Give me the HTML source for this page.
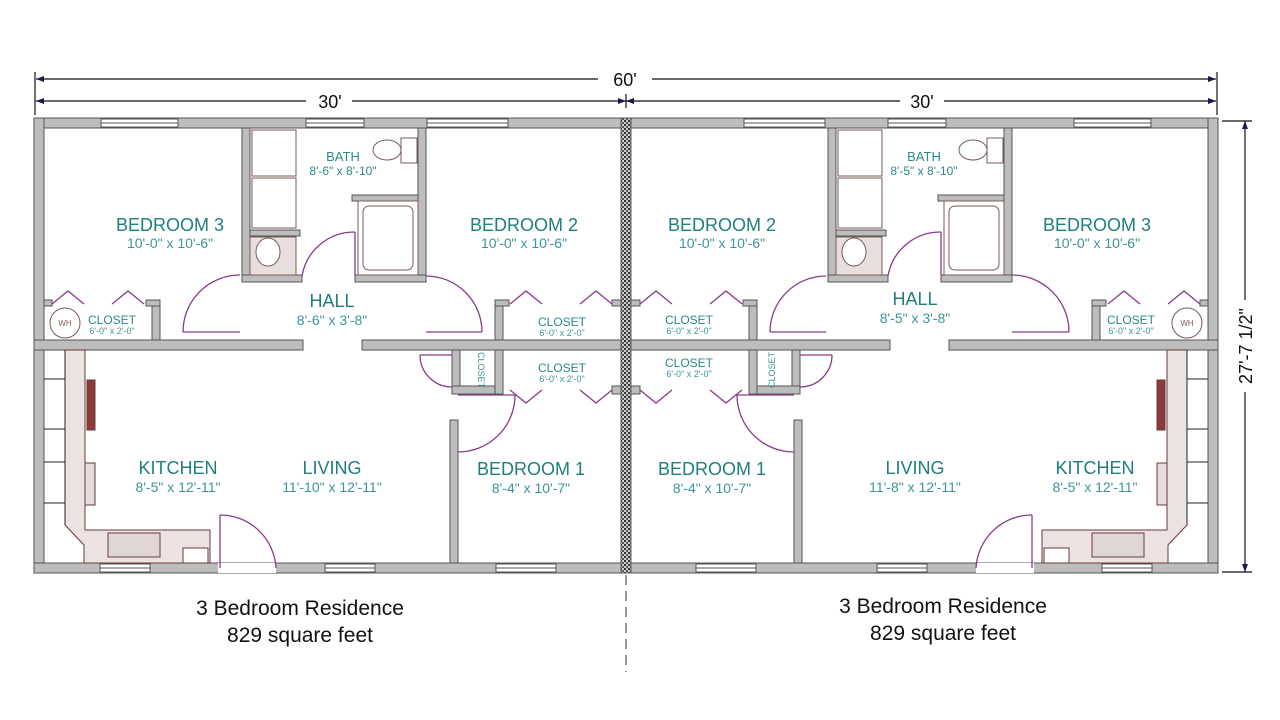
<!DOCTYPE html>
<html><head><meta charset="utf-8"><style>
html,body{margin:0;padding:0;background:#fff;}
svg{display:block;}
.n{font-family:"Liberation Sans",sans-serif;fill:#1f7f7c;text-anchor:middle;font-size:18px;}
.d{font-family:"Liberation Sans",sans-serif;fill:#3a9696;text-anchor:middle;font-size:14px;}
.s{font-family:"Liberation Sans",sans-serif;fill:#2a8a88;text-anchor:middle;font-size:12px;}
.t{font-family:"Liberation Sans",sans-serif;fill:#3a9696;text-anchor:middle;font-size:9px;}
.k{font-family:"Liberation Sans",sans-serif;fill:#111;text-anchor:middle;}
</style></head><body>
<svg width="1280" height="720" viewBox="0 0 1280 720" xmlns="http://www.w3.org/2000/svg">
<defs>
<pattern id="hp" width="4" height="4" patternUnits="userSpaceOnUse"><rect width="4" height="4" fill="#ccc"/><rect width="2" height="2" fill="#333"/><rect x="2" y="2" width="2" height="2" fill="#555"/></pattern>
<g id="unit">
 <g fill="#bdbdbd" stroke="#555" stroke-width="1">
  <rect x="34" y="118" width="588" height="10"/>
  <rect x="34" y="118" width="10" height="455"/>
  <rect x="34" y="563" width="588" height="10"/>
  <rect x="44" y="300" width="8" height="6"/>
  <rect x="152" y="300" width="8" height="40"/>
  <rect x="146" y="300" width="14" height="6"/>
  <rect x="495" y="300" width="8" height="40"/>
  <rect x="495" y="300" width="14" height="6"/>
  <rect x="612" y="300" width="10" height="6"/>
  <rect x="34" y="340" width="269" height="10"/>
  <rect x="362" y="340" width="260" height="10"/>
  <rect x="452" y="350" width="8" height="42"/>
  <rect x="452" y="386" width="51" height="8"/>
  <rect x="495" y="350" width="8" height="44"/>
  <rect x="612" y="386" width="10" height="8"/>
  <rect x="450" y="420" width="8" height="143"/>
 </g>
 <g fill="#fff" stroke="#555" stroke-width="1">
  <rect x="101" y="119" width="77" height="8"/><rect x="306" y="119" width="58" height="8"/><rect x="427" y="119" width="81" height="8"/>
  <rect x="100" y="564" width="50" height="8"/><rect x="325" y="564" width="50" height="8"/><rect x="496" y="564" width="60" height="8"/>
  <rect x="218" y="563" width="58" height="10" stroke="none"/>
 </g>
 <g stroke="#555" stroke-width="1"><line x1="101" y1="123" x2="178" y2="123"/><line x1="306" y1="123" x2="364" y2="123"/><line x1="427" y1="123" x2="508" y2="123"/><line x1="100" y1="568" x2="150" y2="568"/><line x1="325" y1="568" x2="375" y2="568"/><line x1="496" y1="568" x2="556" y2="568"/></g>
 <g fill="none" stroke="#8a3a8a" stroke-width="1.3">
  <line x1="183" y1="332" x2="240" y2="332"/><path d="M183,332 A57,57 0 0 1 240,275"/>
  <line x1="426" y1="332" x2="482" y2="332"/><path d="M482,332 A56,56 0 0 0 426,276"/>
  <line x1="458" y1="395" x2="515" y2="395"/><path d="M515,395 A57,57 0 0 1 458,452"/>
  <line x1="420" y1="355" x2="452" y2="355"/><path d="M420,355 A32,32 0 0 0 452,387"/>
  <line x1="220" y1="515" x2="220" y2="568"/><path d="M220,515 A56,56 0 0 1 276,568"/>
  <polyline points="52,304 68,291 84,304"/><polyline points="112,304 128,291 144,304"/>
  <polyline points="510,304 526,291 542,304"/><polyline points="580,304 596,291 612,304"/>
  <polyline points="510,390 526,403 542,390"/><polyline points="580,390 596,403 612,390"/>
 </g>
 <circle cx="65" cy="323" r="15" fill="#fff" stroke="#7a5a5a"/>
 <g stroke="#6a3a3a" stroke-width="1" fill="#ece2e2">
  <path d="M65,350 H85 V530 H210 V563 H84 V545 L65,525 Z"/>
  <rect x="87" y="380" width="8" height="50" fill="#8a3a3a"/>
  <rect x="85" y="463" width="10" height="42" fill="#e6dede"/>
  <rect x="108" y="533" width="52" height="24" fill="#e0d6d6"/>
  <rect x="183" y="548" width="25" height="15" fill="#fff"/>
 </g>
 <g stroke="#222" stroke-width="1" fill="none">
  <line x1="65" y1="350" x2="65" y2="525"/>
  <line x1="44" y1="379" x2="65" y2="379"/><line x1="44" y1="429" x2="65" y2="429"/><line x1="44" y1="462" x2="65" y2="462"/><line x1="44" y1="503" x2="65" y2="503"/>
 </g>
</g>
<g id="bath">
 <g fill="#bdbdbd" stroke="#555" stroke-width="1">
  <rect x="242" y="128" width="8" height="154"/>
  <rect x="418" y="128" width="8" height="154"/>
  <rect x="242" y="275" width="60" height="7"/>
  <rect x="355" y="275" width="71" height="7"/>
  <rect x="250" y="230" width="50" height="6"/>
  <rect x="352" y="195" width="66" height="6"/>
 </g>
 <g stroke="#7a5a5a" stroke-width="1" fill="#fff">
 <rect x="252" y="130" width="44" height="46"/><rect x="252" y="178" width="44" height="50"/>
 <rect x="250" y="237" width="46" height="38" fill="#e8dede"/>
 <ellipse cx="268" cy="252" rx="12" ry="14"/>
 <ellipse cx="387" cy="150" rx="14" ry="10"/><rect x="401" y="138" width="16" height="25"/>
 <rect x="358" y="201" width="60" height="74"/><rect x="363" y="206" width="50" height="64" rx="6"/>
 </g>
 <g fill="none" stroke="#8a3a8a" stroke-width="1.3"><line x1="355" y1="232" x2="355" y2="275"/><path d="M355,232 A53,53 0 0 0 302,276"/></g>
</g>
</defs>
<rect width="1280" height="720" fill="#fff"/>
<use href="#unit"/>
<use href="#unit" transform="translate(1252,0) scale(-1,1)"/>
<use href="#bath"/>
<use href="#bath" transform="translate(586,0)"/>
<rect x="621" y="118" width="10" height="455" fill="url(#hp)" stroke="#555"/>
<text x="65" y="326" class="t" style="fill:#8a5a5a;font-size:8px">WH</text>
<text x="1187" y="326" class="t" style="fill:#8a5a5a;font-size:8px">WH</text>
<g stroke="#111" stroke-width="1.2">
 <line x1="36" y1="79" x2="598" y2="79"/><line x1="652" y1="79" x2="1216" y2="79"/>
 <line x1="36" y1="101" x2="306" y2="101"/><line x1="352" y1="101" x2="900" y2="101"/><line x1="944" y1="101" x2="1216" y2="101"/>
 <line x1="35" y1="72" x2="35" y2="115"/><line x1="1217" y1="72" x2="1217" y2="115"/><line x1="626" y1="94" x2="626" y2="108"/>
 <line x1="1222" y1="121" x2="1252" y2="121"/><line x1="1222" y1="572" x2="1252" y2="572"/>
 <line x1="1245" y1="121" x2="1245" y2="300"/><line x1="1245" y1="392" x2="1245" y2="572"/>
</g>
<g fill="#1a1a4a"><path d="M36,79 l8,-3 v6z"/><path d="M36,101 l8,-3 v6z"/><path d="M1216,79 l-8,-3 v6z"/><path d="M1216,101 l-8,-3 v6z"/><path d="M626,101 l-8,-3 v6z"/><path d="M626,101 l8,-3 v6z"/><path d="M1245,121 l-3,8 h6z"/><path d="M1245,572 l-3,-8 h6z"/></g>
<text x="625" y="86" class="k" font-size="18">60'</text>
<text x="330" y="108" class="k" font-size="18">30'</text>
<text x="922" y="108" class="k" font-size="18">30'</text>
<text x="0" y="0" class="k" font-size="18" transform="translate(1252,346) rotate(-90)">27'-7 1/2"</text>
<line x1="626" y1="575" x2="626" y2="672" stroke="#333" stroke-dasharray="10,6"/>
<text x="300" y="615" class="k" font-size="21">3 Bedroom Residence</text>
<text x="300" y="642" class="k" font-size="21">829 square feet</text>
<text x="943" y="613" class="k" font-size="21">3 Bedroom Residence</text>
<text x="943" y="640" class="k" font-size="21">829 square feet</text>
<text x="170" y="231" class="n">BEDROOM 3</text><text x="170" y="248" class="d">10'-0" x 10'-6"</text>
<text x="343" y="161" class="s" style="font-size:13px">BATH</text><text x="343" y="175" class="s">8'-6" x 8'-10"</text>
<text x="524" y="231" class="n">BEDROOM 2</text><text x="524" y="248" class="d">10'-0" x 10'-6"</text>
<text x="332" y="307" class="n">HALL</text><text x="332" y="325" class="d">8'-6" x 3'-8"</text>
<text x="112" y="324" class="s">CLOSET</text><text x="112" y="334" class="t">6'-0" x 2'-0"</text>
<text x="562" y="326" class="s">CLOSET</text><text x="562" y="336" class="t">6'-0" x 2'-0"</text>
<text x="562" y="372" class="s">CLOSET</text><text x="562" y="382" class="t">6'-0" x 2'-0"</text>
<text x="0" y="0" class="t" transform="translate(478,370) rotate(90)">CLOSET</text>
<text x="178" y="474" class="n">KITCHEN</text><text x="178" y="492" class="d">8'-5" x 12'-11"</text>
<text x="332" y="474" class="n">LIVING</text><text x="332" y="492" class="d">11'-10" x 12'-11"</text>
<text x="531" y="475" class="n">BEDROOM 1</text><text x="531" y="493" class="d">8'-4" x 10'-7"</text>
<text x="722" y="231" class="n">BEDROOM 2</text><text x="722" y="248" class="d">10'-0" x 10'-6"</text>
<text x="924" y="161" class="s" style="font-size:13px">BATH</text><text x="924" y="175" class="s">8'-5" x 8'-10"</text>
<text x="1097" y="231" class="n">BEDROOM 3</text><text x="1097" y="248" class="d">10'-0" x 10'-6"</text>
<text x="915" y="305" class="n">HALL</text><text x="915" y="323" class="d">8'-5" x 3'-8"</text>
<text x="689" y="324" class="s">CLOSET</text><text x="689" y="334" class="t">6'-0" x 2'-0"</text>
<text x="1131" y="324" class="s">CLOSET</text><text x="1131" y="334" class="t">6'-0" x 2'-0"</text>
<text x="689" y="367" class="s">CLOSET</text><text x="689" y="377" class="t">6'-0" x 2'-0"</text>
<text x="0" y="0" class="t" transform="translate(775,370) rotate(-90)">CLOSET</text>
<text x="712" y="475" class="n">BEDROOM 1</text><text x="712" y="493" class="d">8'-4" x 10'-7"</text>
<text x="915" y="474" class="n">LIVING</text><text x="915" y="492" class="d">11'-8" x 12'-11"</text>
<text x="1095" y="474" class="n">KITCHEN</text><text x="1095" y="492" class="d">8'-5" x 12'-11"</text>
</svg>
</body></html>
